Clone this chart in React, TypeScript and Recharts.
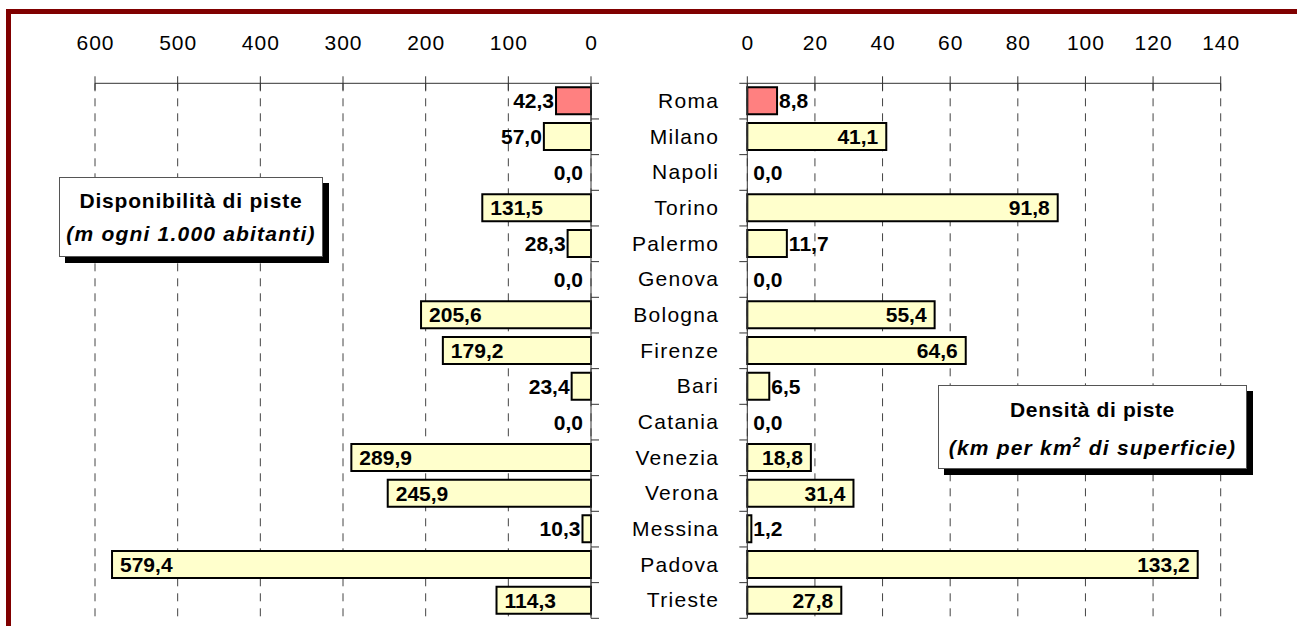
import React from 'react';
import { BarChart, Bar, XAxis, YAxis, CartesianGrid, Cell, LabelList } from 'recharts';

const cities = ['Roma', 'Milano', 'Napoli', 'Torino', 'Palermo', 'Genova', 'Bologna', 'Firenze', 'Bari', 'Catania', 'Venezia', 'Verona', 'Messina', 'Padova', 'Trieste'];
const disponibilita = [42.3, 57.0, 0.0, 131.5, 28.3, 0.0, 205.6, 179.2, 23.4, 0.0, 289.9, 245.9, 10.3, 579.4, 114.3];
const densita = [8.8, 41.1, 0.0, 91.8, 11.7, 0.0, 55.4, 64.6, 6.5, 0.0, 18.8, 31.4, 1.2, 133.2, 27.8];
const leftTicks = [0, 100, 200, 300, 400, 500, 600];
const rightTicks = [0, 20, 40, 60, 80, 100, 120, 140];
const highlightCity = 'Roma';

const data = cities.map((c, i) => ({ city: c, disp: disponibilita[i], dens: densita[i] }));

const FONT = '"Liberation Sans", Arial, Helvetica, sans-serif';
const AXIS = '#333333';
const PLOT_TOP = 83.3;
const PLOT_BOTTOM = 618.3;
const BAND = (PLOT_BOTTOM - PLOT_TOP) / cities.length;
const HIGHLIGHT = '#FF8080';
const FILL = '#FFFFCC';

const fmt = (v: number) => v.toFixed(1).replace('.', ',');

function ValueLabelText({ x, y, anchor, v }: { x: number; y: number; anchor: 'start' | 'end'; v: number }) {
  return (
    <text x={x} y={y} textAnchor={anchor} fontFamily={FONT} fontSize={21} fontWeight="bold" fill="#000" stroke="none">
      {fmt(v)}
    </text>
  );
}

function ValueTick(props: any) {
  const { x, y, payload } = props;
  return (
    <g>
      <line x1={x} x2={x} y1={y - 7} y2={y + 7} stroke={AXIS} strokeWidth={1} />
      <text x={x + 0.5} y={y - 33} textAnchor="middle" fontFamily={FONT} fontSize={21} fontWeight="normal" letterSpacing={1} fill="#000" stroke="none">
        {payload.value}
      </text>
    </g>
  );
}

function LeftCatTick(props: any) {
  const { x, y, index } = props;
  const last = index === cities.length - 1;
  const v = disponibilita[index];
  return (
    <g>
      <line x1={x} x2={x + 8} y1={y - BAND / 2} y2={y - BAND / 2} stroke={AXIS} strokeWidth={1} />
      {last && <line x1={x} x2={x + 8} y1={y + BAND / 2} y2={y + BAND / 2} stroke={AXIS} strokeWidth={1} />}
      {v === 0 && <ValueLabelText x={x - 8} y={y + 7.5} anchor="end" v={v} />}
    </g>
  );
}

function RightCatTick(props: any) {
  const { x, y, index, payload } = props;
  const last = index === cities.length - 1;
  const v = densita[index];
  return (
    <g>
      <line x1={x - 8} x2={x} y1={y - BAND / 2} y2={y - BAND / 2} stroke={AXIS} strokeWidth={1} />
      {last && <line x1={x - 8} x2={x} y1={y + BAND / 2} y2={y + BAND / 2} stroke={AXIS} strokeWidth={1} />}
      <text x={x - 28} y={y + 7} textAnchor="end" fontFamily={FONT} fontSize={21} fontWeight="normal" letterSpacing={1.3} fill="#000" stroke="none">
        {payload.value}
      </text>
      {v === 0 && <ValueLabelText x={x + 6} y={y + 7.5} anchor="start" v={v} />}
    </g>
  );
}

function readBox(props: any) {
  const vb = props.viewBox && props.viewBox.width !== undefined ? props.viewBox : props;
  return { x: Number(vb.x), y: Number(vb.y), w: Number(vb.width), h: Number(vb.height) };
}

const leftLabel = (props: any) => {
  const { x, y, w, h } = readBox(props);
  const v = Number(props.value);
  if (v === 0) return null;
  const left = Math.min(x, x + w);
  const bw = Math.abs(w);
  const inside = bw >= 58;
  const tx = inside ? left + 8 : left - 2;
  return <ValueLabelText x={tx} y={y + h / 2 + 7.5} anchor={inside ? 'start' : 'end'} v={v} />;
};

const rightLabel = (props: any) => {
  const { x, y, w, h } = readBox(props);
  const v = Number(props.value);
  if (v === 0) return null;
  const right = Math.max(x, x + w);
  const bw = Math.abs(w);
  const inside = bw >= 58;
  const tx = inside ? right - 8 : right + 2;
  return <ValueLabelText x={tx} y={y + h / 2 + 7.5} anchor={inside ? 'end' : 'start'} v={v} />;
};

const boxBase: React.CSSProperties = {
  position: 'absolute',
  boxSizing: 'border-box',
  background: '#fff',
  border: '1px solid #555',
  boxShadow: '6px 6px 0 #000',
  textAlign: 'center',
  fontFamily: FONT,
  fontWeight: 'bold',
  fontSize: 21,
  color: '#000',
};

export default function App() {
  return (
    <div style={{ position: 'absolute', left: 0, top: 0, width: 1297, height: 626, background: '#fff', overflow: 'hidden', fontFamily: FONT }}>
      <div style={{ position: 'absolute', left: 6, top: 9, width: 1400, height: 700, borderTop: '5px solid #800000', borderLeft: '5px solid #800000' }} />

      <div style={{ position: 'absolute', left: 0, top: 0 }}>
        <BarChart width={640} height={626} data={data} layout="vertical" margin={{ top: PLOT_TOP - 30, left: 95, right: 39, bottom: 626 - PLOT_BOTTOM }}>
          <CartesianGrid horizontal={false} vertical={true} stroke="#444" strokeDasharray="8 7" />
          <XAxis type="number" orientation="top" domain={[0, 600]} ticks={leftTicks} reversed interval={0} height={30} tickSize={0} tickMargin={0} tick={<ValueTick />} axisLine={{ stroke: AXIS }} tickLine={false} />
          <YAxis type="category" dataKey="city" orientation="right" width={10} interval={0} tickSize={0} tickMargin={0} tick={<LeftCatTick />} axisLine={{ stroke: AXIS }} tickLine={false} />
          <Bar dataKey="disp" barSize={27} stroke="#000" strokeWidth={2} isAnimationActive={false}>
            {data.map((d) => (
              <Cell key={d.city} fill={d.city === highlightCity ? HIGHLIGHT : FILL} />
            ))}
            <LabelList dataKey="disp" content={leftLabel} />
          </Bar>
        </BarChart>
      </div>

      <div style={{ position: 'absolute', left: 600, top: 0 }}>
        <BarChart width={697} height={626} data={data} layout="vertical" margin={{ top: PLOT_TOP - 30, left: 47.3, right: 76.3, bottom: 626 - PLOT_BOTTOM }}>
          <CartesianGrid horizontal={false} vertical={true} stroke="#444" strokeDasharray="8 7" />
          <XAxis type="number" orientation="top" domain={[0, 140]} ticks={rightTicks} interval={0} height={30} tickSize={0} tickMargin={0} tick={<ValueTick />} axisLine={{ stroke: AXIS }} tickLine={false} />
          <YAxis type="category" dataKey="city" orientation="left" width={100} interval={0} tickSize={0} tickMargin={0} tick={<RightCatTick />} axisLine={{ stroke: AXIS }} tickLine={false} />
          <Bar dataKey="dens" barSize={27} stroke="#000" strokeWidth={2} isAnimationActive={false}>
            {data.map((d) => (
              <Cell key={d.city} fill={d.city === highlightCity ? HIGHLIGHT : FILL} />
            ))}
            <LabelList dataKey="dens" content={rightLabel} />
          </Bar>
        </BarChart>
      </div>

      <div style={{ ...boxBase, left: 59, top: 177, width: 264, height: 80, paddingTop: 6 }}>
        <div style={{ lineHeight: '33px', letterSpacing: 0.8 }}>Disponibilità di piste</div>
        <div style={{ lineHeight: '33px', letterSpacing: 1.2, fontStyle: 'italic' }}>(m ogni 1.000 abitanti)</div>
      </div>

      <div style={{ ...boxBase, left: 938, top: 385, width: 309, height: 84, paddingTop: 5 }}>
        <div style={{ lineHeight: '38px', letterSpacing: 0.6 }}>Densità di piste</div>
        <div style={{ lineHeight: '38px', letterSpacing: 1.2, fontStyle: 'italic', whiteSpace: 'nowrap' }}>
          (km per km<span style={{ fontSize: 14, verticalAlign: 'super', lineHeight: 0 }}>2</span> di superficie)
        </div>
      </div>
    </div>
  );
}
